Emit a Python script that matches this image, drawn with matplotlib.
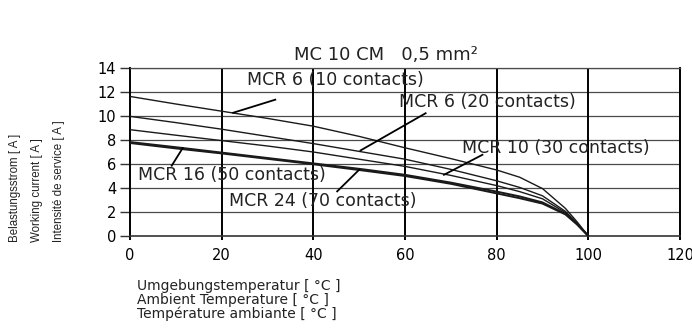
"""Derating curves, MC 10 CM 0,5 mm2 (current vs. ambient temperature)."""

import matplotlib
matplotlib.use('Agg')
import matplotlib.pyplot as plt

# ambient temperature [°C]
temp = [0, 10, 20, 30, 40, 50, 60, 70, 80, 85, 90, 95, 97.5, 100]

# working current [A] per connector
mcr6_10 = [11.63, 11.0, 10.4, 9.8, 9.15, 8.3, 7.35, 6.45, 5.5, 4.9, 3.95, 2.3, 1.2, 0]
mcr6_20 = [9.97, 9.45, 8.9, 8.3, 7.7, 7.05, 6.4, 5.55, 4.6, 4.05, 3.35, 2.05, 1.1, 0]
mcr10_30 = [8.86, 8.4, 7.95, 7.5, 7.0, 6.4, 5.8, 5.05, 4.2, 3.7, 3.1, 1.95, 1.05, 0]
mcr16_50 = [7.83, 7.4, 6.95, 6.5, 6.05, 5.6, 5.1, 4.45, 3.7, 3.3, 2.8, 1.85, 1.0, 0]
mcr24_70 = [7.75, 7.3, 6.88, 6.43, 5.98, 5.5, 5.0, 4.35, 3.55, 3.15, 2.7, 1.8, 0.98, 0]

curves = [mcr6_10, mcr6_20, mcr10_30, mcr16_50, mcr24_70]
labels = ['MCR 6 (10 contacts)', 'MCR 6 (20 contacts)', 'MCR 10 (30 contacts)',
          'MCR 16 (50 contacts)', 'MCR 24 (70 contacts)']
# where each leader line touches its curve, and where the label sits
touch = [(22.5, 10.27), (50.3, 7.13), (68.5, 5.1), (11.5, 7.33), (50.0, 5.52)]
leader_end = [(31.7, 11.36), (64.5, 10.23), (76.9, 6.77), (9.1, 5.86), (45.2, 3.72)]
label_xy = [(25.6, 13.0), (58.8, 11.2), (72.5, 7.3), (1.7, 5.1), (21.5, 2.95)]

xticks = [0, 20, 40, 60, 80, 100, 120]
yticks = [0, 2, 4, 6, 8, 10, 12, 14]

plt.rcParams['font.family'] = ['DejaVu Sans']

fig = plt.figure(figsize=(6.92, 3.28), dpi=100)
ax = fig.add_axes([130 / 692, 1 - 236 / 328, 550 / 692, 168 / 328])

ax.set_xlim(0, 120)
ax.set_ylim(0, 14)
ax.set_xticks(xticks)
ax.set_yticks(yticks)
ax.tick_params(axis='y', length=7, width=1, color='#333333', pad=3, labelsize=10.5)
ax.tick_params(axis='x', length=3, width=1.4, color='black', pad=6, labelsize=10.5)

for y in yticks[1:]:
    ax.axhline(y, color='#4a4a4a', lw=0.9, zorder=1)
for x in xticks[1:-1]:
    ax.axvline(x, color='black', lw=1.4, zorder=1)
for side in ['left', 'right']:
    ax.spines[side].set_linewidth(1.4)
ax.spines['top'].set_linewidth(0.9)
ax.spines['top'].set_color('#4a4a4a')
ax.spines['bottom'].set_linewidth(1.2)
ax.spines['bottom'].set_color('#333333')

for i, ys in enumerate(curves):
    lw = 1.4 if i >= 3 else 1.0
    ax.plot(temp, ys, color='#1a1a1a', lw=lw, zorder=3)

for lab, (tx, ty), (lx, ly), (px, py) in zip(labels, label_xy, leader_end, touch):
    ax.plot([lx, px], [ly, py], color='black', lw=1.3, zorder=4)
    ax.text(tx, ty, lab, fontsize=12.5, ha='left', va='center', color='#222222',
            zorder=2)

fig.text(386 / 692, 1 - 55 / 328, 'MC 10 CM   0,5 mm²', fontsize=13,
         ha='center', va='center', color='#222222')

ylab = ['Belastungsstrom [ A ]', 'Working current [ A ]', 'Intensité de service [ A ]']
for x_px, s in zip([15, 37, 59], ylab):
    fig.text(x_px / 692, 1 - 242 / 328, s, rotation=90, ha='center', va='bottom',
             fontsize=8.3, family='Liberation Sans', color='#222222')

xlab = ['Umgebungstemperatur [ °C ]', 'Ambient Temperature [ °C ]',
        'Température ambiante [ °C ]']
for y_px, s in zip([286, 300, 314], xlab):
    fig.text(137 / 692, 1 - y_px / 328, s, ha='left', va='center',
             fontsize=10, color='#222222')

fig.savefig('out.png', dpi=100)
